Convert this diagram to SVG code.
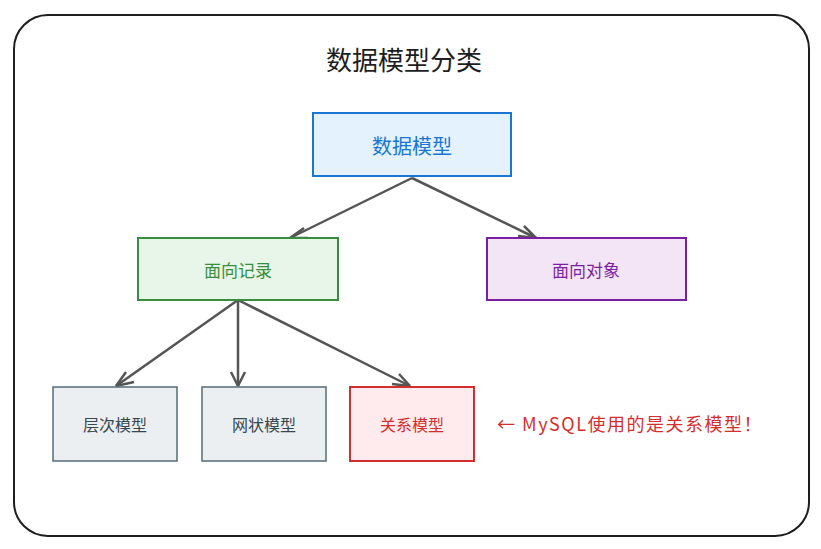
<svg xmlns="http://www.w3.org/2000/svg" width="821" height="549" viewBox="0 0 821 549">
<defs>
<style>
text{font-family:"Noto Sans CJK SC","Noto Sans",sans-serif;text-anchor:middle;dominant-baseline:central}
.c{stroke:#555;stroke-width:2.5;fill:none}
.g{fill:#eceff1;stroke:#546e7a;stroke-width:1.5}
</style>
</defs>
<rect width="821" height="549" fill="#fff"/>
<rect x="14" y="15" width="795" height="521" rx="34" fill="#fff" stroke="#1e1e1e" stroke-width="2"/>
<text x="404" y="58" font-size="26" fill="#1e1e1e">数据模型分类</text>
<g id="connectors">
<path class="c" d="M412,178 L290,238"/>
<path class="c" d="M290,238 l14,-10 M290,238 l18,0"/>
<path class="c" d="M412,178 L536,238"/>
<path class="c" d="M536,238 l-18,-2 M536,238 l-12,-12"/>
<path class="c" d="M238,300 L116,386"/>
<path class="c" d="M116,386 l10,-14 M116,386 l18,-4"/>
<path class="c" d="M238,300 L238,386"/>
<path class="c" d="M238,386 l-7,-14 M238,386 l7,-14"/>
<path class="c" d="M238,300 L410,386"/>
<path class="c" d="M410,386 l-18,-2 M410,386 l-11,-12"/>
</g>
<g id="n1"><rect x="313" y="113" width="198" height="63" fill="#e3f2fd" stroke="#1976d2" stroke-width="2"/><text x="412" y="145" font-size="20" fill="#1976d2">数据模型</text></g>
<g id="n2"><rect x="138" y="238" width="200" height="62" fill="#e8f5e9" stroke="#388e3c" stroke-width="2"/><text x="238" y="269" font-size="17" fill="#388e3c">面向记录</text></g>
<g id="n3"><rect x="487" y="238" width="199" height="62" fill="#f3e5f5" stroke="#7b1fa2" stroke-width="2"/><text x="586" y="269" font-size="17" fill="#7b1fa2">面向对象</text></g>
<g id="n4"><rect class="g" x="53" y="387" width="124" height="74"/><text x="115" y="424" font-size="16" fill="#37474f">层次模型</text></g>
<g id="n5"><rect class="g" x="202" y="387" width="124" height="74"/><text x="264" y="424" font-size="16" fill="#37474f">网状模型</text></g>
<g id="n6"><rect x="350" y="387" width="124" height="74" fill="#ffebee" stroke="#d32f2f" stroke-width="2"/><text x="412" y="424" font-size="16" fill="#d32f2f">关系模型</text></g>
<text x="630" y="423" font-size="18" letter-spacing="1.5" fill="#d32f2f">← MySQL使用的是关系模型！</text>
</svg>
